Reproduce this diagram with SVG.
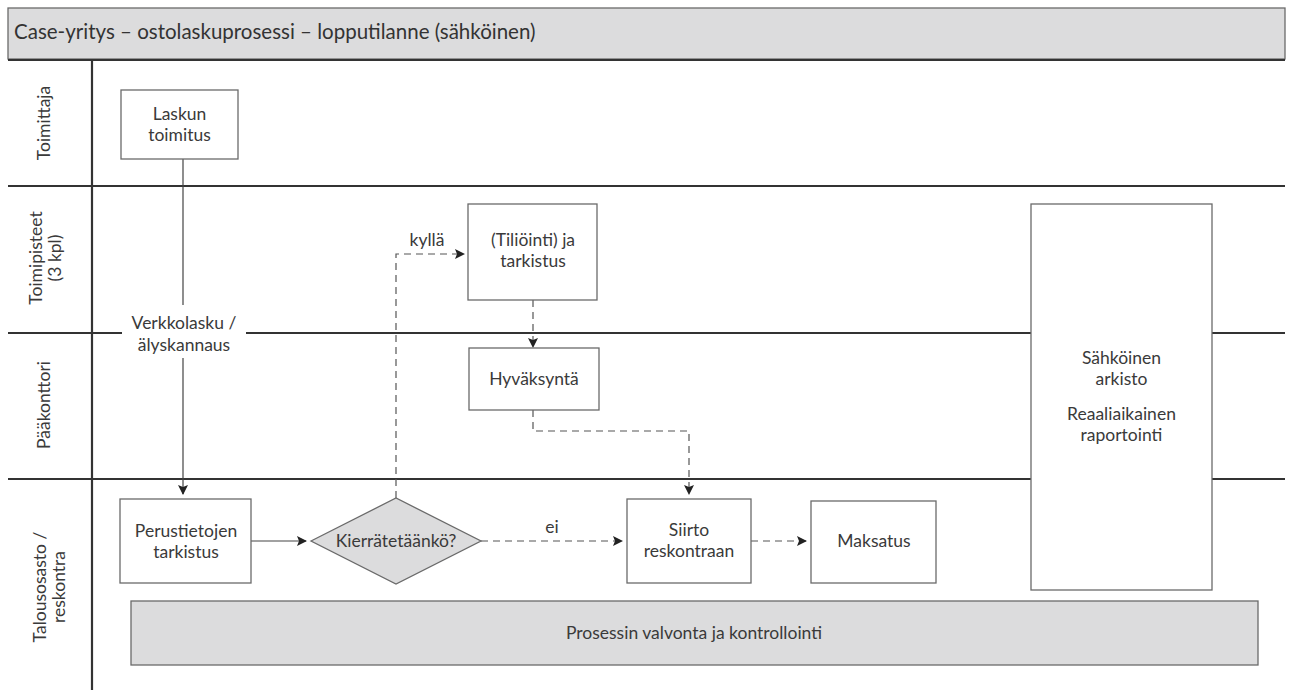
<svg xmlns="http://www.w3.org/2000/svg" width="1293" height="690" viewBox="0 0 1293 690">
<defs>
<style>
.t{font-family:Lato,"Open Sans","Liberation Sans",sans-serif;font-size:17.5px;fill:#3a3a3a;text-anchor:middle}
.lab{font-family:Lato,"Open Sans","Liberation Sans",sans-serif;font-size:17.5px;fill:#3a3a3a;text-anchor:middle}
.box{fill:#fff;stroke:#6a6a6a;stroke-width:1.3}
.gray{fill:#dcdcdd;stroke:#6a6a6a;stroke-width:1.3}
.lane{stroke:#333;stroke-width:2.2;fill:none}
.c{stroke:#444;stroke-width:1.2;fill:none}
.d{stroke:#555;stroke-width:1.2;fill:none;stroke-dasharray:7 5}
</style>
<marker id="ah" viewBox="0 0 10 10" refX="9" refY="5" markerWidth="10" markerHeight="10" markerUnits="userSpaceOnUse" orient="auto">
<path d="M0,0 L10,5 L0,10 L2,5 Z" fill="#222"/>
</marker>
</defs>
<rect width="1293" height="690" fill="#fff"/>
<g id="title">
<rect x="8" y="8" width="1277" height="51" class="gray" stroke="#555"/>
<text x="14" y="39" font-family="Lato, Open Sans, Liberation Sans, sans-serif" font-size="20.5" fill="#333">Case-yritys – ostolaskuprosessi – lopputilanne (sähköinen)</text>
</g>
<g id="lanes">
<line x1="8" y1="60" x2="1285" y2="60" class="lane"/>
<line x1="8" y1="186" x2="1285" y2="186" class="lane"/>
<line x1="8" y1="333" x2="122" y2="333" class="lane"/>
<line x1="246" y1="333" x2="1285" y2="333" class="lane"/>
<line x1="8" y1="479" x2="1285" y2="479" class="lane"/>
<line x1="92" y1="60" x2="92" y2="690" class="lane"/>
<text class="lab" transform="translate(50,123) rotate(-90)">Toimittaja</text>
<text class="lab" transform="translate(42,258) rotate(-90)">Toimipisteet</text>
<text class="lab" transform="translate(61,258) rotate(-90)">(3 kpl)</text>
<text class="lab" transform="translate(50,405) rotate(-90)">Pääkonttori</text>
<text class="lab" transform="translate(46,587) rotate(-90)">Talousosasto /</text>
<text class="lab" transform="translate(65,587) rotate(-90)">reskontra</text>
</g>
<g id="connectors">
<line x1="183" y1="158" x2="183" y2="305" class="c"/>
<line x1="183" y1="358" x2="183" y2="494" class="c" marker-end="url(#ah)"/>
<text class="t" x="184" y="329">Verkkolasku /</text>
<text class="t" x="184" y="351">älyskannaus</text>
<line x1="251" y1="541" x2="306" y2="541" class="c" marker-end="url(#ah)"/>
<line x1="481" y1="541" x2="622" y2="541" class="d" marker-end="url(#ah)"/>
<text class="t" x="552" y="533">ei</text>
<polyline points="396,498 396,254 464,254" class="d" marker-end="url(#ah)"/>
<text class="t" x="427" y="246">kyllä</text>
<line x1="533" y1="300" x2="533" y2="347" class="d" marker-end="url(#ah)"/>
<polyline points="533,410 533,431 689,431 689,494" class="d" marker-end="url(#ah)"/>
<line x1="751" y1="541" x2="806" y2="541" class="d" marker-end="url(#ah)"/>
</g>
<g id="n-laskun">
<rect x="121" y="90" width="117" height="69" class="box"/>
<text class="t" x="179.5" y="120">Laskun</text>
<text class="t" x="179.5" y="141">toimitus</text>
</g>
<g id="n-tiliointi">
<rect x="468" y="204" width="129" height="96" class="box"/>
<text class="t" x="533" y="246">(Tiliöinti) ja</text>
<text class="t" x="533" y="267">tarkistus</text>
</g>
<g id="n-hyvaksynta">
<rect x="469" y="348" width="130" height="62" class="box"/>
<text class="t" x="534" y="385">Hyväksyntä</text>
</g>
<g id="n-perus">
<rect x="120" y="499" width="131" height="84" class="box"/>
<text class="t" x="186" y="537">Perustietojen</text>
<text class="t" x="186" y="558">tarkistus</text>
</g>
<g id="n-kierr">
<polygon points="311,541 396,498 481,541 396,584" class="gray"/>
<text class="t" x="396" y="547">Kierrätetäänkö?</text>
</g>
<g id="n-siirto">
<rect x="627" y="499" width="124" height="84" class="box"/>
<text class="t" x="689" y="536">Siirto</text>
<text class="t" x="689" y="557">reskontraan</text>
</g>
<g id="n-maksatus">
<rect x="811" y="501" width="125" height="82" class="box"/>
<text class="t" x="874" y="547">Maksatus</text>
</g>
<g id="n-arkisto">
<rect x="1031" y="204" width="181" height="386" class="box"/>
<text class="t" x="1121.5" y="364">Sähköinen</text>
<text class="t" x="1121.5" y="385">arkisto</text>
<text class="t" x="1121.5" y="420">Reaaliaikainen</text>
<text class="t" x="1121.5" y="441">raportointi</text>
</g>
<g id="n-valvonta">
<rect x="131" y="601" width="1127" height="64" class="gray"/>
<text class="t" x="694" y="639">Prosessin valvonta ja kontrollointi</text>
</g>
</svg>
